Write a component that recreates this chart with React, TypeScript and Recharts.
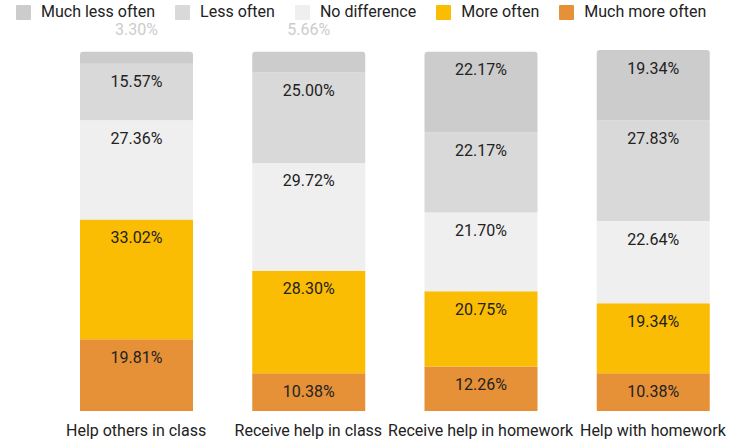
import { Bar, BarChart, LabelList, XAxis, YAxis } from 'recharts';

const categories = [
  'Help others in class',
  'Receive help in class',
  'Receive help in homework',
  'Help with homework',
];

const muchLessOften = [3.3, 5.66, 22.17, 19.34];
const lessOften = [15.57, 25.0, 22.17, 27.83];
const noDifference = [27.36, 29.72, 21.7, 22.64];
const moreOften = [33.02, 28.3, 20.75, 19.34];
const muchMoreOften = [19.81, 10.38, 12.26, 10.38];

// legend order, top of stack first
const seriesNames = ['Much less often', 'Less often', 'No difference', 'More often', 'Much more often'];
const seriesKeys = ['muchLess', 'less', 'noDiff', 'more', 'muchMore'];
const seriesColors = ['#cccccc', '#d9d9d9', '#efefef', '#fbbc04', '#e69138'];

const data = categories.map((name, i) => ({
  name,
  muchLess: muchLessOften[i],
  less: lessOften[i],
  noDiff: noDifference[i],
  more: moreOften[i],
  muchMore: muchMoreOften[i],
}));

const FONT = 'Roboto, sans-serif';

function SegmentLabel(props: any) {
  const { x, y, width, height, value } = props;
  const cx = x + width / 2;
  const text = `${Number(value).toFixed(2)}%`;
  if (height < 22) {
    // too thin to hold its label: put it above the bar, faded
    return (
      <text x={cx} y={y - 22} textAnchor='middle' dominantBaseline='central' fill='#cccccc' fontSize={16} fontFamily={FONT}>
        {text}
      </text>
    );
  }
  return (
    <text x={cx} y={y + 18} textAnchor='middle' dominantBaseline='central' fill='#222222' fontSize={16} fontFamily={FONT}>
      {text}
    </text>
  );
}

function TopLegend() {
  return (
    <div
      style={{
        position: 'absolute',
        top: 4,
        left: 16,
        display: 'flex',
        alignItems: 'center',
        fontFamily: FONT,
        fontSize: 16,
        lineHeight: '16px',
        color: '#222',
        whiteSpace: 'nowrap',
      }}
    >
      {seriesNames.map((n, i) => (
        <div key={n} style={{ display: 'flex', alignItems: 'center', marginRight: 20 }}>
          <span style={{ width: 15, height: 15, background: seriesColors[i], borderRadius: 1, marginRight: 10 }} />
          <span>{n}</span>
        </div>
      ))}
    </div>
  );
}

export default function App() {
  // stack bottom-up: reverse of legend order
  const stackOrder = [4, 3, 2, 1, 0];
  return (
    <div style={{ position: 'absolute', left: 0, top: 0, width: 730, height: 439, overflow: 'hidden', background: '#fff' }}>
      <BarChart width={739} height={439} data={data} margin={{ top: 50, right: 0, bottom: 0, left: 50 }} barSize={113}>
        <XAxis
          dataKey='name'
          height={28}
          axisLine={false}
          tickLine={false}
          interval={0}
          tickMargin={8}
          tick={{ fontSize: 16, fill: '#222', fontFamily: FONT }}
        />
        <YAxis hide domain={[0, 'dataMax']} />
        {stackOrder.map((i) => (
          <Bar
            key={seriesKeys[i]}
            dataKey={seriesKeys[i]}
            name={seriesNames[i]}
            stackId='a'
            fill={seriesColors[i]}
            radius={i === 0 ? [3, 3, 0, 0] : 0}
            isAnimationActive={false}
          >
            <LabelList dataKey={seriesKeys[i]} content={SegmentLabel} />
          </Bar>
        ))}
      </BarChart>
      <TopLegend />
    </div>
  );
}
